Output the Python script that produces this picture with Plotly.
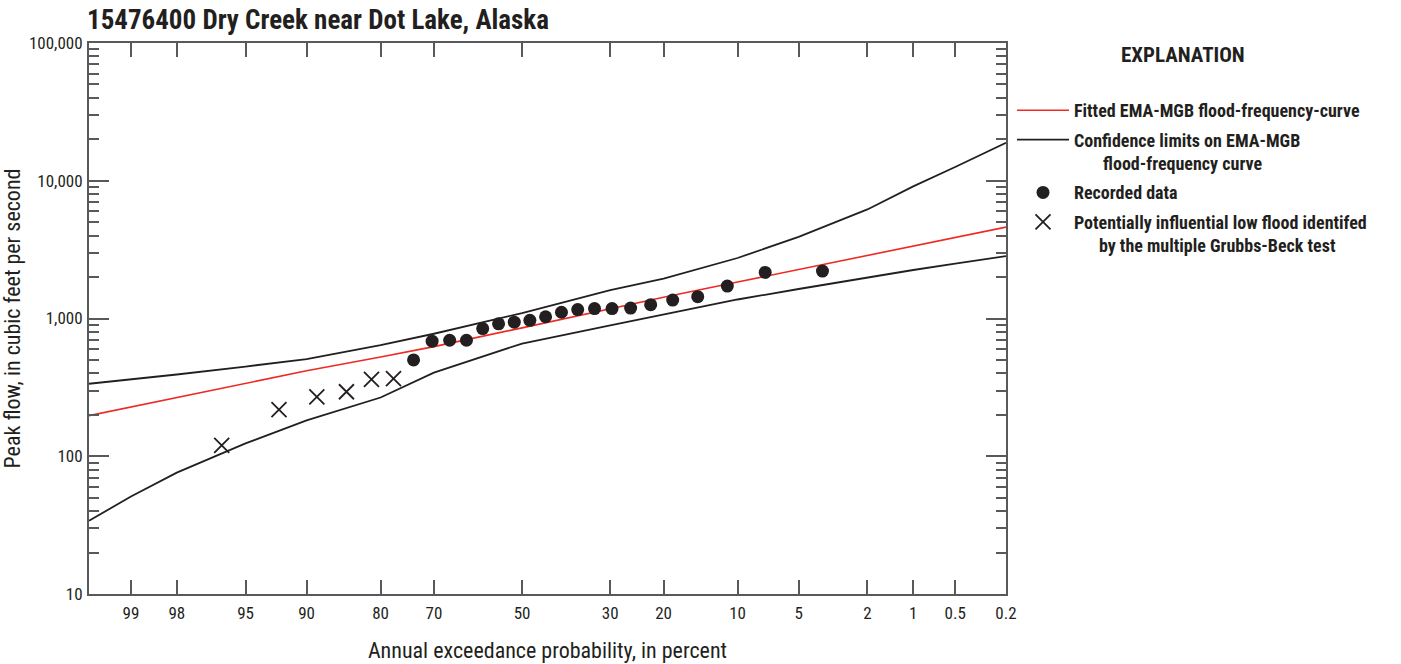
from statistics import NormalDist
import plotly.graph_objects as go

# ---------------- data ----------------
# Annual exceedance probability (percent) for the fitted / confidence curves
curve_prob = [99.5, 99, 98, 95, 90, 80, 70, 50, 30, 20, 10, 5, 2, 1, 0.5, 0.2]
fitted_flow = [197, 228, 267, 338, 417, 525, 625, 855, 1184, 1426, 1841, 2270, 2878, 3357, 3875, 4605]
upper_flow = [336, 361, 392, 448, 508, 640, 775, 1096, 1610, 1950, 2749, 3914, 6190, 9100, 12577, 18880]
lower_flow = [34, 51, 76, 124, 182, 267, 405, 658, 890, 1069, 1374, 1637, 1987, 2250, 2507, 2833]

# Recorded annual peaks (plotting position in percent, peak flow cfs)
obs_prob = [3.70, 7.41, 11.11, 14.81, 18.52, 22.22, 25.93, 29.63, 33.33, 37.04,
            40.74, 44.44, 48.15, 51.85, 55.56, 59.26, 62.96, 66.67, 70.37, 74.07]
obs_flow = [2210, 2160, 1720, 1440, 1360, 1260, 1190, 1180, 1180, 1160,
            1110, 1030, 970, 940, 915, 845, 695, 695, 685, 500]

# Potentially influential low floods (multiple Grubbs-Beck)
low_prob = [77.78, 81.48, 85.19, 88.89, 92.59, 96.30]
low_flow = [366, 361, 294, 270, 218, 120]

# Axis ticks
x_tick_prob = [99, 98, 95, 90, 80, 70, 50, 30, 20, 10, 5, 2, 1, 0.5, 0.2]
x_tick_text = ["99", "98", "95", "90", "80", "70", "50", "30", "20", "10", "5", "2", "1", "0.5", "0.2"]
y_tick_vals = [10, 100, 1000, 10000, 100000]
y_tick_text = ["10", "100", "1,000", "10,000", "100,000"]
x_range_prob = [99.5, 0.2]

# ---------------- helpers ----------------
ND = NormalDist()


def z(p):
    """Normal-probability scale: exceedance percent -> standard normal quantile."""
    return ND.inv_cdf(1 - p / 100.0)


def zs(ps):
    return [z(p) for p in ps]


FONT = "'Roboto Condensed', 'Liberation Sans Narrow', 'DejaVu Sans Condensed', sans-serif"
INK = "#231f20"
AXIS = "#58595b"
RED = "#ee2a24"

# plot area in pixels
L, R, T, B = 89, 1006, 43, 594
PW, PH = R - L, B - T


def px(xp):
    return (xp - L) / PW


def py(yp):
    return (B - yp) / PH


fig = go.Figure()

fig.add_trace(go.Scatter(
    x=zs(curve_prob), y=fitted_flow, mode="lines",
    line=dict(color=RED, width=1.6),
    name="<b>Fitted EMA-MGB flood-frequency-curve</b>", legendgroup="a"))
fig.add_trace(go.Scatter(
    x=zs(curve_prob), y=upper_flow, mode="lines",
    line=dict(color=INK, width=1.8),
    name="<b>Confidence limits on EMA-MGB<br>" + "\u00a0" * 7 + "flood-frequency curve</b>",
    legendgroup="b"))
fig.add_trace(go.Scatter(
    x=zs(curve_prob), y=lower_flow, mode="lines",
    line=dict(color=INK, width=1.8), showlegend=False, legendgroup="b",
    name="Lower confidence limit"))
fig.add_trace(go.Scatter(
    x=zs(obs_prob), y=obs_flow, mode="markers",
    marker=dict(color=INK, size=13, symbol="circle"),
    name="<b>Recorded data</b>", legendgroup="c"))
fig.add_trace(go.Scatter(
    x=zs(low_prob), y=low_flow, mode="markers",
    marker=dict(color=INK, size=15, symbol="x-thin", line=dict(color=INK, width=1.8)),
    name="<b>Potentially influential low flood identifed<br>" + "\u00a0" * 6
         + "by the multiple Grubbs-Beck test</b>",
    legendgroup="d"))

fig.update_layout(
    width=1401, height=664,
    margin=dict(l=L, r=1401 - R, t=T, b=664 - B, autoexpand=False),
    paper_bgcolor="white", plot_bgcolor="white",
    font=dict(family=FONT, color=INK, size=17),
    title=dict(text="<b>15476400 Dry Creek near Dot Lake, Alaska</b>",
               font=dict(family=FONT, size=27, color=INK),
               x=87 / 1401, xanchor="left", xref="container",
               y=1 - 10 / 664, yanchor="top", yref="container"),
    showlegend=True,
    legend=dict(x=px(1012), xanchor="left", y=py(92), yanchor="top",
                font=dict(family=FONT, size=18, color=INK),
                bgcolor="rgba(0,0,0,0)", traceorder="grouped", tracegroupgap=3,
                valign="top", itemwidth=52),
    annotations=[dict(text="<b>EXPLANATION</b>", xref="paper", yref="paper",
                      x=px(1183), y=py(55), xanchor="center", yanchor="middle",
                      showarrow=False, font=dict(family=FONT, size=21, color=INK))],
)

fig.update_xaxes(
    range=[z(x_range_prob[0]), z(x_range_prob[1])],
    tickvals=zs(x_tick_prob), ticktext=x_tick_text,
    ticks="inside", ticklen=14, tickwidth=1.5, tickcolor=AXIS,
    showline=True, linewidth=2, linecolor=AXIS, mirror="allticks",
    showgrid=False, zeroline=False, ticklabelstandoff=3, automargin=False,
    tickfont=dict(family=FONT, size=17, color=INK),
    title=dict(text="Annual exceedance probability, in percent",
               font=dict(family=FONT, size=22, color=INK), standoff=20),
)

minor_vals = [m * 10 ** d for d in range(1, 5) for m in range(2, 10)]
fig.update_yaxes(
    type="log", range=[1, 5],
    tickvals=y_tick_vals, ticktext=y_tick_text,
    ticks="inside", ticklen=20, tickwidth=1.5, tickcolor=AXIS,
    minor=dict(tickvals=minor_vals, ticks="inside", ticklen=10, tickwidth=1.5,
               tickcolor=AXIS, showgrid=False),
    showline=True, linewidth=2, linecolor=AXIS, mirror="allticks",
    showgrid=False, zeroline=False, ticklabelstandoff=1, automargin=False,
    tickfont=dict(family=FONT, size=17, color=INK),
    title=dict(text="Peak flow, in cubic feet per second",
               font=dict(family=FONT, size=22, color=INK), standoff=6),
)

fig.write_html("out.html")
